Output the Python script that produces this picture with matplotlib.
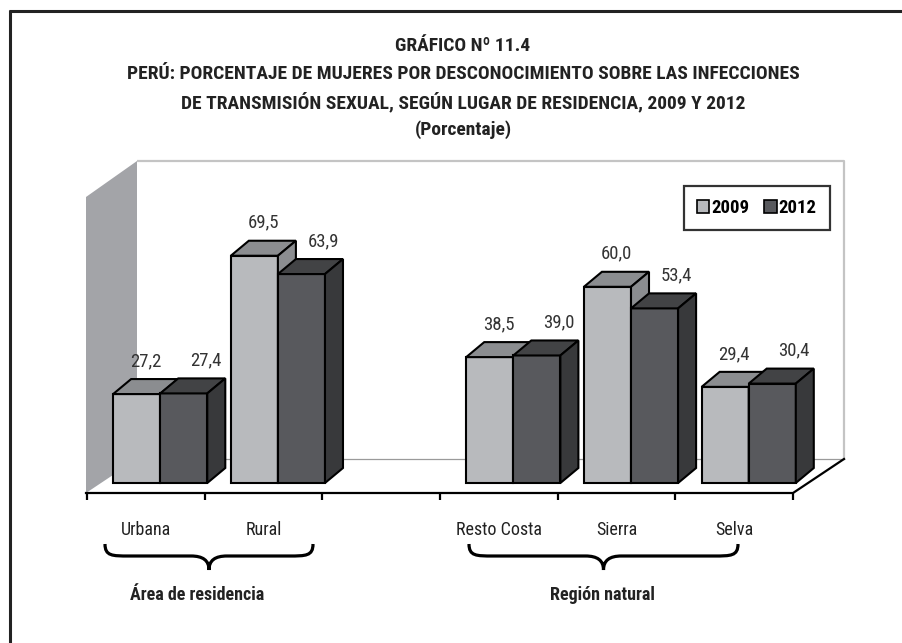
import numpy as np
import matplotlib
matplotlib.use("Agg")
import matplotlib.pyplot as plt
from matplotlib import font_manager as fm
from matplotlib.patches import Polygon, Patch
from matplotlib.path import Path
from matplotlib.patches import PathPatch

# ---- data -------------------------------------------------------------
categories = ["Urbana", "Rural", "", "Resto Costa", "Sierra", "Selva"]
values_2009 = [27.2, 69.5, np.nan, 38.5, 60.0, 29.4]
values_2012 = [27.4, 63.9, np.nan, 39.0, 53.4, 30.4]
series_names = ["2009", "2012"]
groups = [("Área de residencia", 0, 1), ("Región natural", 3, 5)]
title_lines = [
    "GRÁFICO Nº 11.4",
    "PERÚ: PORCENTAJE DE MUJERES POR DESCONOCIMIENTO SOBRE LAS INFECCIONES",
    "DE TRANSMISIÓN SEXUAL, SEGÚN LUGAR DE RESIDENCIA, 2009 Y 2012",
    "(Porcentaje)",
]

# ---- fonts: prefer a narrow sans that also has a bold face -------------
weights = {}
for f in fm.fontManager.ttflist:
    w = f.weight if isinstance(f.weight, int) else (700 if "bold" in str(f.weight) else 400)
    weights.setdefault(f.name, set()).add(w)

preferred = ["Liberation Sans Narrow", "Arial Narrow", "Roboto Condensed",
             "Open Sans Condensed", "Noto Sans Condensed", "DejaVu Sans Condensed"]
others = sorted(nm for nm in weights if ("Narrow" in nm or "Condensed" in nm))
FONT = None
for nm in preferred + others:
    if nm in weights and max(weights[nm]) >= 600 and min(weights[nm]) <= 500:
        FONT = nm
        break
if FONT is None:
    FONT = others[0] if others else "Liberation Sans"
plt.rcParams["font.family"] = [FONT, "DejaVu Sans"]

# ---- figure / scale ---------------------------------------------------
W, H, DPI = 903, 643, 100
fig = plt.figure(figsize=(W / DPI, H / DPI), dpi=DPI)
fig.patch.set_edgecolor("none")
ax = fig.add_axes([0, 0, 1, 1])

X0, SX = 87.0, 117.7   # pixel of category origin, pixels per category slot
Y0, SY = 483.0, 3.27   # pixel of value 0 (front plane), pixels per percent
ax.set_xlim(-X0 / SX, (W - X0) / SX)
ax.set_ylim((Y0 - H) / SY, Y0 / SY)
ax.axis("off")

def px(x_pix):
    return (x_pix - X0) / SX

def py(y_pix):
    return (Y0 - y_pix) / SY

def dpx(d):
    return d / SX

def dpy(d):
    return d / SY

n = len(categories)

# ---- walls and floor --------------------------------------------------
wall_col = "#a3a4a8"
ax.add_patch(Polygon([(px(86), py(493)), (px(86), py(197)), (px(137), py(161)),
                      (px(137), py(459))], closed=True, facecolor=wall_col,
                     edgecolor="none", zorder=1))
ax.plot([px(137), px(844), px(844)], [py(161), py(161), py(459)],
        color="#c4c4c4", lw=1.6, zorder=1, solid_capstyle="butt")
ax.plot([px(137), px(844)], [py(459), py(459)], color="#9a9a9a", lw=0.9, zorder=1)

# floor front edge, right edge and ticks
ax.plot([px(86), px(793), px(844)], [py(493), py(493), py(459)],
        color="black", lw=1.6, zorder=2, solid_joinstyle="miter")
for k in range(n + 1):
    ax.plot([k, k], [py(493), py(500)], color="black", lw=1.6, zorder=2,
            solid_capstyle="butt")

# ---- 3D bars ----------------------------------------------------------
bar_w = 0.40
bar_start = 0.222
ddx, ddy = dpx(18), dpy(15)          # depth offset of each box
front_cols = ["#b8babd", "#58595d"]
top_cols = ["#8b8d90", "#424345"]
side_cols = ["#8b8d90", "#38393b"]
label_dx = [dpx(9), dpx(22)]
label_dy = dpy(33)

edge_kw = dict(edgecolor="black", linewidth=1.5, joinstyle="miter")
for i in range(n):
    for s, vals in enumerate([values_2009, values_2012]):
        v = vals[i]
        if np.isnan(v):
            continue
        x0 = i + bar_start + s * bar_w
        z = 3 + i * 2 + s
        ax.bar(x0, v, width=bar_w, align="edge", color=front_cols[s],
               zorder=z, **edge_kw)
        ax.add_patch(Polygon([(x0, v), (x0 + ddx, v + ddy),
                              (x0 + bar_w + ddx, v + ddy), (x0 + bar_w, v)],
                             closed=True, facecolor=top_cols[s], zorder=z, **edge_kw))
        ax.add_patch(Polygon([(x0 + bar_w, 0), (x0 + bar_w + ddx, ddy),
                              (x0 + bar_w + ddx, v + ddy), (x0 + bar_w, v)],
                             closed=True, facecolor=side_cols[s], zorder=z, **edge_kw))
        ax.text(x0 + bar_w / 2 + label_dx[s], v + label_dy,
                f"{v:.1f}".replace(".", ","), ha="center", va="center",
                fontsize=13.5, color="#333333", zorder=30)

# ---- category labels ---------------------------------------------------
for i, c in enumerate(categories):
    if c:
        ax.text(i + 0.5, py(530), c, ha="center", va="center",
                fontsize=13, color="#222222")

# ---- braces and group labels -------------------------------------------
def brace(x_left, x_right, y_end, y_mid, y_tip, lw=2.3):
    xm = (x_left + x_right) / 2
    r = dpx(24)
    t = dpx(18)
    verts = [
        (x_left, y_end),
        (x_left, y_mid), (x_left + r * 0.3, y_mid), (x_left + r, y_mid),
        (xm - t, y_mid),
        (xm - t * 0.35, y_mid), (xm, y_mid - (y_mid - y_tip) * 0.3), (xm, y_tip),
        (xm, y_mid - (y_mid - y_tip) * 0.3), (xm + t * 0.35, y_mid), (xm + t, y_mid),
        (x_right - r, y_mid),
        (x_right - r * 0.3, y_mid), (x_right, y_mid), (x_right, y_end),
    ]
    codes = [Path.MOVETO, Path.CURVE4, Path.CURVE4, Path.CURVE4, Path.LINETO,
             Path.CURVE4, Path.CURVE4, Path.CURVE4, Path.CURVE4, Path.CURVE4,
             Path.CURVE4, Path.LINETO, Path.CURVE4, Path.CURVE4, Path.CURVE4]
    ax.add_patch(PathPatch(Path(verts, codes), facecolor="none",
                           edgecolor="black", lw=lw, zorder=5))

brace_spans = {"Área de residencia": (px(105), px(313)),
               "Región natural": (px(469), px(738))}
group_label_x = {"Área de residencia": px(197), "Región natural": px(602)}
for name, a, b in groups:
    xl, xr = brace_spans[name]
    brace(xl, xr, py(544), py(556), py(570))
    ax.text(group_label_x[name], py(595), name, ha="center", va="center",
            fontsize=13, fontweight="bold", color="#222222")

# ---- legend -----------------------------------------------------------
handles = [Patch(facecolor=front_cols[s], edgecolor="black", linewidth=1.2,
                 label=series_names[s]) for s in range(2)]
leg = ax.legend(handles=handles, loc="upper right", ncol=2,
                bbox_to_anchor=(830 / W, 1 - 186 / H), bbox_transform=fig.transFigure,
                borderaxespad=0.0, frameon=True, fancybox=False,
                handlelength=0.65, handleheight=0.65, handletextpad=0.12,
                columnspacing=0.8, borderpad=0.7,
                prop={"family": [FONT, "DejaVu Sans"], "size": 13.5,
                      "weight": "bold"})
leg.get_frame().set_edgecolor("black")
leg.get_frame().set_linewidth(1.6)
leg.set_zorder(40)

# ---- title ------------------------------------------------------------
for k, line in enumerate(title_lines):
    fig.text(463 / W, 1 - (46 + 28 * k) / H, line, ha="center", va="center",
             fontsize=14, fontweight="bold", color="#222222")

# ---- outer frame (top and left rules) ---------------------------------
fig.add_artist(plt.Line2D([10 / W, 10 / W], [0, 1 - 10 / H],
                          transform=fig.transFigure, color="#222222", lw=2.2,
                          solid_capstyle="butt"))
fig.add_artist(plt.Line2D([9 / W, 1], [1 - 11 / H, 1 - 11 / H],
                          transform=fig.transFigure, color="#222222", lw=2.2,
                          solid_capstyle="butt"))

fig.savefig("out.png", dpi=DPI)
